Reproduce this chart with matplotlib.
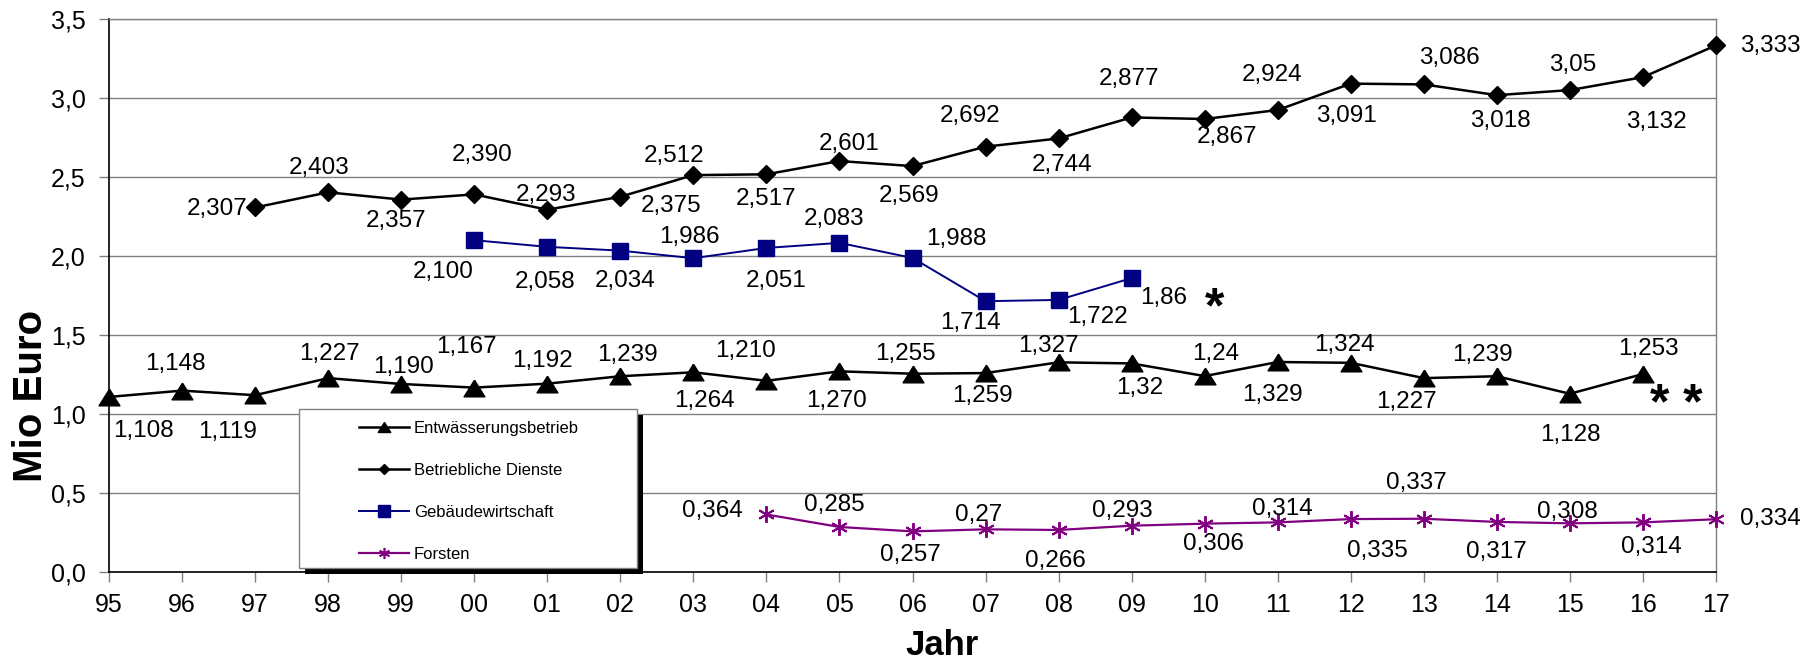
import matplotlib
matplotlib.use("Agg")
import matplotlib.pyplot as plt
from matplotlib.lines import Line2D
from matplotlib.patches import Rectangle

plt.rcParams['font.family'] = ['Liberation Sans', 'DejaVu Sans']

# --- data (values as printed, German decimal comma) ---
years = ['95', '96', '97', '98', '99', '00', '01', '02', '03', '04', '05', '06',
         '07', '08', '09', '10', '11', '12', '13', '14', '15', '16', '17']

entw_start = '95'
entw_vals = ['1,108', '1,148', '1,119', '1,227', '1,190', '1,167', '1,192', '1,239',
             '1,264', '1,210', '1,270', '1,255', '1,259', '1,327', '1,32', '1,24',
             '1,329', '1,324', '1,227', '1,239', '1,128', '1,253']

betr_start = '97'
betr_vals = ['2,307', '2,403', '2,357', '2,390', '2,293', '2,375', '2,512', '2,517',
             '2,601', '2,569', '2,692', '2,744', '2,877', '2,867', '2,924', '3,091',
             '3,086', '3,018', '3,05', '3,132', '3,333']

geb_start = '00'
geb_vals = ['2,100', '2,058', '2,034', '1,986', '2,051', '2,083', '1,988', '1,714',
            '1,722', '1,86']

forst_start = '04'
forst_vals = ['0,364', '0,285', '0,257', '0,27', '0,266', '0,293', '0,306', '0,314',
              '0,335', '0,337', '0,317', '0,308', '0,314', '0,334']

yticks = [0.0, 0.5, 1.0, 1.5, 2.0, 2.5, 3.0, 3.5]

# label offsets in pixels (dx, dy), as placed in the original chart
entw_off = [(34, -34), (-7, 27), (-28, -37), (1, 24), (2, 17), (-8, 41), (-5, 23),
            (7, 21), (11, -29), (-21, 30), (-3, -30), (-7, 20), (-3, -23), (-10, 16),
            (8, -25), (11, 22), (-5, -33), (-6, 18), (-17, -24), (-14, 21), (0, -41),
            (5, 25)]
betr_off = [(-38, -2), (-9, 24), (-5, -21), (8, 39), (-1, 15), (51, -9), (-19, 19),
            (0, -25), (10, 17), (-3, -30), (-15, 31), (3, -27), (-3, 38), (22, -18),
            (-6, 35), (-4, -32), (26, 26), (4, -26), (3, 25), (13, -45), (54, -1)]
geb_off = [(-31, -32), (-2, -35), (5, -30), (-4, 21), (10, -33), (-5, 24), (44, 19),
           (-15, -22), (39, -17), (32, -20)]
forst_off = [(-54, 3), (-5, 22), (-2, -24), (-7, 14), (-3, -31), (-9, 15), (9, -20),
             (5, 13), (27, -32), (-7, 36), (0, -30), (-3, 11), (8, -25), (54, 0)]


def to_float(labels):
    return [float(s.replace(',', '.')) for s in labels]


W, H = 1818, 662
fig = plt.figure(figsize=(W / 100, H / 100), dpi=100)
ax = fig.add_axes([109 / W, 1 - 572 / H, (1716 - 109) / W, (572 - 19) / H])

tri = [(0, 0.8), (-1, -0.8), (1, -0.8), (0, 0.8)]

series = [
    ('Entwässerungsbetrieb', entw_start, entw_vals, entw_off,
     dict(color='black', lw=1.8, marker=tri, ms=15), dict(marker=tri, ms=9)),
    ('Betriebliche Dienste', betr_start, betr_vals, betr_off,
     dict(color='black', lw=1.8, marker='D', ms=9), dict(marker='D', ms=5.5)),
    ('Gebäudewirtschaft', geb_start, geb_vals, geb_off,
     dict(color='#000080', lw=1.4, marker='s', ms=11), dict(marker='s', ms=8)),
    ('Forsten', forst_start, forst_vals, forst_off,
     dict(color='#800080', lw=1.6, marker=(6, 2, 0), ms=12, mew=1.4),
     dict(marker=(6, 2, 0), ms=8, mew=1.2)),
]

handles = []
for name, start, vals, offs, style, leg_style in series:
    i0 = years.index(start)
    xs = list(range(i0, i0 + len(vals)))
    ys = to_float(vals)
    ax.plot(xs, ys, clip_on=False, zorder=3, **style)
    for x, y, lbl, (dx, dy) in zip(xs, ys, vals, offs):
        ax.annotate(lbl, (x, y), xytext=(dx, dy), textcoords='offset pixels',
                    ha='center', va='center', fontsize=17.5, annotation_clip=False)
    handles.append(Line2D([], [], color=style['color'], lw=style['lw'], **leg_style))

# footnote markers
ax.annotate('*', (years.index('09'), to_float(geb_vals)[-1]), xytext=(83, -44),
            textcoords='offset pixels', ha='center', va='baseline',
            fontsize=36, fontweight='bold', annotation_clip=False)
ax.annotate('* *', (years.index('16'), to_float(entw_vals)[-1]), xytext=(33, -45),
            textcoords='offset pixels', ha='center', va='baseline',
            fontsize=36, fontweight='bold', annotation_clip=False)

ax.set_xlim(0, len(years) - 1)
ax.set_ylim(0, 3.5)
ax.set_xticks(range(len(years)))
ax.set_xticklabels(years)
ax.set_yticks(yticks)
ax.set_yticklabels([f'{v:.1f}'.replace('.', ',') for v in yticks])
ax.tick_params(axis='both', labelsize=18, color='#808080', length=7, width=1)
ax.tick_params(axis='y', pad=10)
ax.tick_params(axis='x', pad=8)

ax.set_axisbelow(True)
ax.yaxis.grid(True, color='#808080', lw=1)
for side in ('left', 'bottom'):
    ax.spines[side].set_color('black')
    ax.spines[side].set_linewidth(1.2)
for side in ('top', 'right'):
    ax.spines[side].set_color('#808080')
    ax.spines[side].set_linewidth(1)

fig.text(31 / W, 1 - 396 / H, 'Mio Euro', rotation=90, fontsize=29,
         fontweight='bold', ha='center', va='center')
fig.text(942 / W, 1 - 655 / H, 'Jahr', fontsize=25, fontweight='bold',
         ha='center', va='baseline')

# legend box with hard black shadow
bx0, by0, bx1, by1 = 299, 409, 637, 568
fig.add_artist(Rectangle(((bx0 + 6) / W, 1 - (by1 + 6) / H), (bx1 - bx0) / W,
                         (by1 - by0) / H, transform=fig.transFigure,
                         facecolor='black', edgecolor='none', zorder=4))
fig.add_artist(Rectangle((bx0 / W, 1 - by1 / H), (bx1 - bx0) / W, (by1 - by0) / H,
                         transform=fig.transFigure, facecolor='white',
                         edgecolor='#808080', lw=1, zorder=4.5))
fig.legend(handles, [s[0] for s in series], loc='upper left',
           bbox_to_anchor=(359 / W, 1 - 421 / H), frameon=False, fontsize=12,
           handlelength=3.0, handletextpad=0.3, labelspacing=1.62,
           borderpad=0, borderaxespad=0)

fig.savefig('out.png', dpi=100)
